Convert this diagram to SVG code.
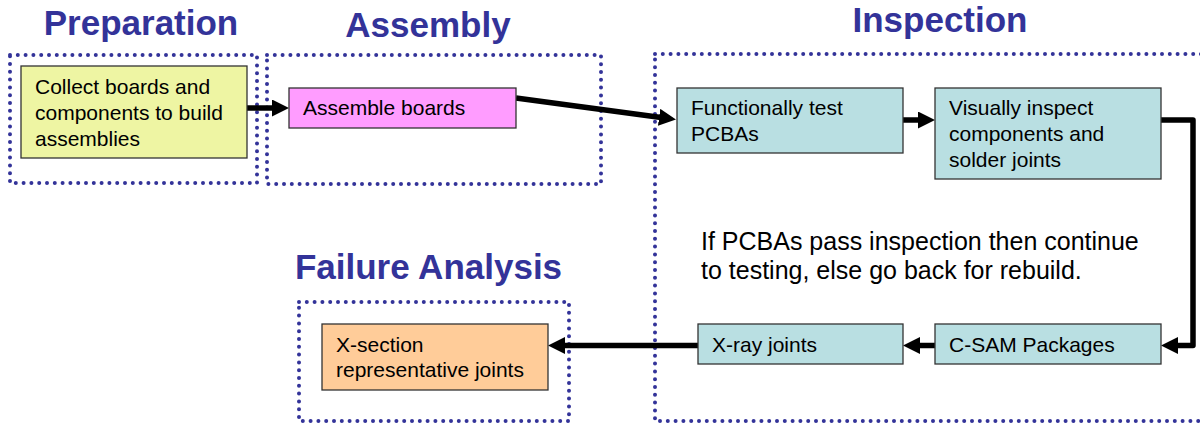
<svg xmlns="http://www.w3.org/2000/svg" width="1200" height="424" viewBox="0 0 1200 424">
  <style>
    .title { font-family: "Liberation Sans", Arial, sans-serif; font-size: 35px; font-weight: bold; fill: #333399; text-anchor: middle; }
    .label { font-family: "Liberation Sans", Arial, sans-serif; font-size: 21px; fill: #000000; }
    .note { font-family: "Liberation Sans", Arial, sans-serif; font-size: 25px; fill: #000000; }
    .stage { fill: none; stroke: #333399; stroke-width: 4; stroke-dasharray: 0 7.8; stroke-linecap: round; }
    .box { stroke: #333333; stroke-width: 1.3; }
    .flow { fill: none; stroke: #000000; stroke-width: 5.5; stroke-linejoin: round; }
  </style>
  <defs>
    <marker id="arrow" markerUnits="userSpaceOnUse" markerWidth="17" markerHeight="17" refX="2" refY="8.5" orient="auto">
      <path d="M0,0 L17,8.5 L0,17 z" fill="#000000"/>
    </marker>
  </defs>

  <rect width="1200" height="424" fill="#ffffff"/>

  <!-- stage frames and headings -->
  <g id="stage-preparation">
    <text class="title" x="141" y="35">Preparation</text>
    <rect class="stage" x="10" y="55" width="247" height="128"/>
  </g>
  <g id="stage-assembly">
    <text class="title" x="428" y="37">Assembly</text>
    <rect class="stage" x="267" y="55" width="334" height="129"/>
  </g>
  <g id="stage-inspection">
    <text class="title" x="940" y="32">Inspection</text>
    <rect class="stage" x="655" y="54" width="560" height="367"/>
  </g>
  <g id="stage-failure-analysis">
    <text class="title" x="428.5" y="279">Failure Analysis</text>
    <rect class="stage" x="299" y="302" width="270" height="119"/>
  </g>

  <!-- connectors -->
  <g id="connectors">
    <line class="flow" x1="247" y1="108" x2="274" y2="108" marker-end="url(#arrow)"/>
    <line class="flow" x1="516" y1="98" x2="661.1" y2="117.5" marker-end="url(#arrow)"/>
    <line class="flow" x1="903" y1="120" x2="920" y2="120" marker-end="url(#arrow)"/>
    <polyline class="flow" points="1161,120 1193,120 1193,345.5 1176,345.5" marker-end="url(#arrow)"/>
    <line class="flow" x1="935" y1="345.5" x2="918" y2="345.5" marker-end="url(#arrow)"/>
    <line class="flow" x1="698" y1="345.5" x2="563" y2="345.5" marker-end="url(#arrow)"/>
  </g>

  <!-- process steps -->
  <g id="node-collect">
    <rect class="box" x="21" y="66" width="226" height="92" fill="#EEF5A3"/>
    <text class="label" x="35" y="94">Collect boards and</text>
    <text class="label" x="35" y="119.5">components to build</text>
    <text class="label" x="35" y="145.5">assemblies</text>
  </g>
  <g id="node-assemble">
    <rect class="box" x="289" y="88" width="227" height="40" fill="#FF9CFF"/>
    <text class="label" x="303" y="115">Assemble boards</text>
  </g>
  <g id="node-functional-test">
    <rect class="box" x="677" y="88" width="226" height="65" fill="#B9DFE2"/>
    <text class="label" x="691" y="115">Functionally test</text>
    <text class="label" x="691" y="141">PCBAs</text>
  </g>
  <g id="node-visual-inspect">
    <rect class="box" x="935" y="88" width="226" height="91" fill="#B9DFE2"/>
    <text class="label" x="949" y="115">Visually inspect</text>
    <text class="label" x="949" y="141">components and</text>
    <text class="label" x="949" y="167">solder joints</text>
  </g>
  <g id="node-csam">
    <rect class="box" x="935" y="324" width="226" height="40" fill="#B9DFE2"/>
    <text class="label" x="949" y="352">C-SAM Packages</text>
  </g>
  <g id="node-xray">
    <rect class="box" x="698" y="324" width="205" height="40" fill="#B9DFE2"/>
    <text class="label" x="712" y="352">X-ray joints</text>
  </g>
  <g id="node-xsection">
    <rect class="box" x="322" y="324" width="226" height="66" fill="#FFCC99"/>
    <text class="label" x="336" y="352">X-section</text>
    <text class="label" x="336" y="377">representative joints</text>
  </g>

  <!-- inspection rule -->
  <g id="note-inspection-rule">
    <text class="note" x="701" y="250">If PCBAs pass inspection then continue</text>
    <text class="note" x="701" y="279">to testing, else go back for rebuild.</text>
  </g>
</svg>
